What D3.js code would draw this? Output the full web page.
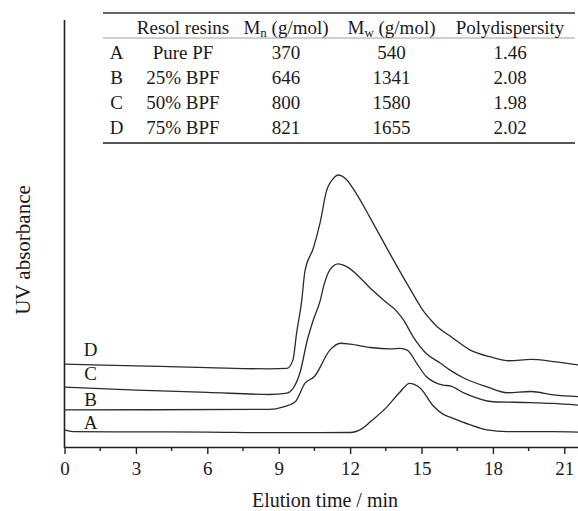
<!DOCTYPE html>
<html>
<head>
<meta charset="utf-8">
<script src="https://cdn.jsdelivr.net/npm/d3@7"></script>
<style>
    body { margin: 0; background: #fff; }
    svg { display: block; font-family: "Liberation Serif", "Times New Roman", serif; }
    .curve { fill: none; stroke: #2b2b2b; stroke-width: 1.3; }
    .axis-line { stroke: #222; stroke-width: 1.6; }
</style>
</head>
<body>
<svg id="chart" width="578" height="511"></svg>
<script>
// series labels, bottom to top
var seriesNames = ["A", "B", "C", "D"];

// elution time (min) / UV absorbance (arb.)
var traceA = [
    [0, 4.0], [0.35, 3.6], [6, 3.5], [8.6, 3.35], [12.0, 3.4], [12.5, 4.3], [12.85, 5.9],
    [13.55, 9.4], [14.1, 12.9], [14.5, 14.9], [14.94, 13.8], [15.5, 9.6], [15.9, 7.7],
    [16.2, 7.0], [17.05, 5.2], [17.75, 4.0], [18.6, 3.6], [20.5, 3.6], [21.6, 3.5]
];
var traceB = [
    [0, 8.7], [8.6, 8.8], [9.2, 9.4], [9.7, 10.6], [10.1, 14.9], [10.5, 16.5], [11.15, 22.7],
    [11.6, 24.3], [12.0, 24.1], [12.85, 23.3], [13.7, 23.0], [14.1, 23.1], [14.4, 22.7],
    [14.8, 19.6], [15.2, 16.5], [15.5, 15.3], [15.9, 14.5], [16.2, 14.3], [16.8, 12.6],
    [18.0, 10.6], [19.6, 10.4], [20.5, 10.2], [21.6, 9.8]
];
var traceC = [
    [0, 14.0], [3, 13.3], [6, 12.8], [8.6, 12.3], [9.35, 12.6], [9.6, 13.7], [9.9, 17.5],
    [10.2, 25.0], [10.45, 29.7], [10.75, 34.4], [10.9, 37.9], [11.15, 41.5], [11.5, 42.9],
    [11.87, 42.2], [12.85, 37.2], [13.4, 34.4], [13.97, 31.7], [14.25, 29.7], [14.65, 25.8],
    [15.2, 21.9], [15.8, 19.6], [16.2, 18.0], [16.8, 16.1], [17.75, 14.1], [18.6, 12.7],
    [19.6, 13.0], [20.55, 12.2], [21.6, 11.8]
];
var traceD = [
    [0, 19.4], [3, 19.0], [6, 18.6], [8.6, 18.3], [9.35, 18.4], [9.6, 20.4], [9.75, 26.6],
    [9.97, 34.4], [10.1, 41.1], [10.45, 46.5], [10.75, 52.8], [11.0, 59.8], [11.3, 62.9],
    [11.5, 63.7], [11.8, 62.9], [12.3, 59.0], [12.85, 53.6], [13.7, 45.0], [14.5, 37.2],
    [15.1, 31.7], [15.4, 29.7], [15.65, 28.2], [16.2, 26.0], [17.05, 22.7], [17.9, 21.1],
    [18.7, 20.2], [19.6, 20.5], [20.55, 20.0], [21.6, 19.2]
];
var traces = [traceA, traceB, traceC, traceD];

var xTicks = [0, 3, 6, 9, 12, 15, 18, 21];

// inset table
var tableHeader = ["", "Resol resins", "M|n| (g/mol)", "M|w| (g/mol)", "Polydispersity"];
var resinNames = ["Pure PF", "25% BPF", "50% BPF", "75% BPF"];
var mnValues = ["370", "646", "800", "821"];
var mwValues = ["540", "1341", "1580", "1655"];
var pdiValues = ["1.46", "2.08", "1.98", "2.02"];

var svg = d3.select("#chart");
var axisBottom = 447;
var axisLeft = 64.5;

var x = d3.scaleLinear().domain([0, 21.6]).range([axisLeft, axisLeft + 21.6 * 23.8]);
var y = d3.scaleLinear().domain([0, 100]).range([axisBottom, 20]);

// axes
svg.append("line").attr("class", "axis-line")
    .attr("x1", axisLeft).attr("x2", axisLeft)
    .attr("y1", 20).attr("y2", axisBottom + 0.8);

var xAxis = svg.append("g")
    .attr("transform", "translate(0," + axisBottom + ")")
    .call(d3.axisBottom(x).tickValues(xTicks).tickSize(7).tickSizeOuter(0).tickPadding(8));
xAxis.select(".domain").attr("stroke-width", 1.6).attr("stroke", "#222");
xAxis.selectAll(".tick line").attr("stroke-width", 1.4).attr("stroke", "#222");
xAxis.selectAll(".tick text")
    .attr("font-size", 19).attr("font-family", "Liberation Serif, serif").attr("fill", "#1a1a1a");

xAxis.selectAll(".minor")
    .data(d3.range(1.5, 21.6, 3))
    .enter().append("line")
    .attr("x1", function(d) { return x(d); })
    .attr("x2", function(d) { return x(d); })
    .attr("y1", 0).attr("y2", 4)
    .attr("stroke", "#222").attr("stroke-width", 1.4);

svg.append("text")
    .attr("x", 325)
    .attr("y", 507)
    .attr("text-anchor", "middle")
    .attr("font-size", 20)
    .attr("fill", "#1a1a1a")
    .text("Elution time / min");

svg.append("text")
    .attr("transform", "translate(30,250) rotate(-90)")
    .attr("text-anchor", "middle")
    .attr("font-size", 21)
    .attr("fill", "#1a1a1a")
    .text("UV absorbance");

// traces
var line = d3.line()
    .x(function(d) { return x(d[0]); })
    .y(function(d) { return y(d[1]); })
    .curve(d3.curveMonotoneX);

svg.selectAll(".curve")
    .data(traces)
    .enter().append("path")
    .attr("class", "curve")
    .attr("d", line);

var labelLift = [1, 4, 7, 8];
svg.selectAll(".series-label")
    .data(seriesNames)
    .enter().append("text")
    .attr("class", "series-label")
    .attr("x", x(1.1))
    .attr("y", function(d, i) { return y(traces[i][0][1]) - labelLift[i]; })
    .attr("text-anchor", "middle")
    .attr("font-size", 19)
    .attr("fill", "#1a1a1a")
    .text(function(d) { return d; });

// table
var table = svg.append("g").attr("font-size", 19).attr("fill", "#1a1a1a");
var colX = [116.5, 183, 286, 391.5, 510];
var tableLeft = 103, tableRight = 575;
var headerBase = 34, rowStep = 25;

table.append("line").attr("x1", tableLeft).attr("x2", tableRight)
    .attr("y1", 13).attr("y2", 13).attr("stroke", "#333").attr("stroke-width", 1.3);
table.append("line").attr("x1", tableLeft).attr("x2", tableRight)
    .attr("y1", 38).attr("y2", 38).attr("stroke", "#888").attr("stroke-width", 0.8);
table.append("line").attr("x1", tableLeft).attr("x2", tableRight)
    .attr("y1", 143).attr("y2", 143).attr("stroke", "#555").attr("stroke-width", 2);

tableHeader.forEach(function(h, i) {
    if (!h) return;
    var t = table.append("text")
        .attr("x", colX[i]).attr("y", headerBase)
        .attr("text-anchor", "middle");
    var parts = h.split("|");
    if (parts.length === 1) {
        t.text(h);
    } else {
        t.append("tspan").text(parts[0]);
        t.append("tspan").attr("font-size", 13).attr("dy", 3).text(parts[1]);
        t.append("tspan").attr("dy", -3).text(parts[2]);
    }
});

var rows = seriesNames.map(function(name, i) {
    return [name, resinNames[i], mnValues[i], mwValues[i], pdiValues[i]];
});

rows.forEach(function(row, r) {
    row.forEach(function(cell, c) {
        table.append("text")
            .attr("x", colX[c])
            .attr("y", headerBase + rowStep * (r + 1))
            .attr("text-anchor", "middle")
            .text(cell);
    });
});
</script>
</body>
</html>
